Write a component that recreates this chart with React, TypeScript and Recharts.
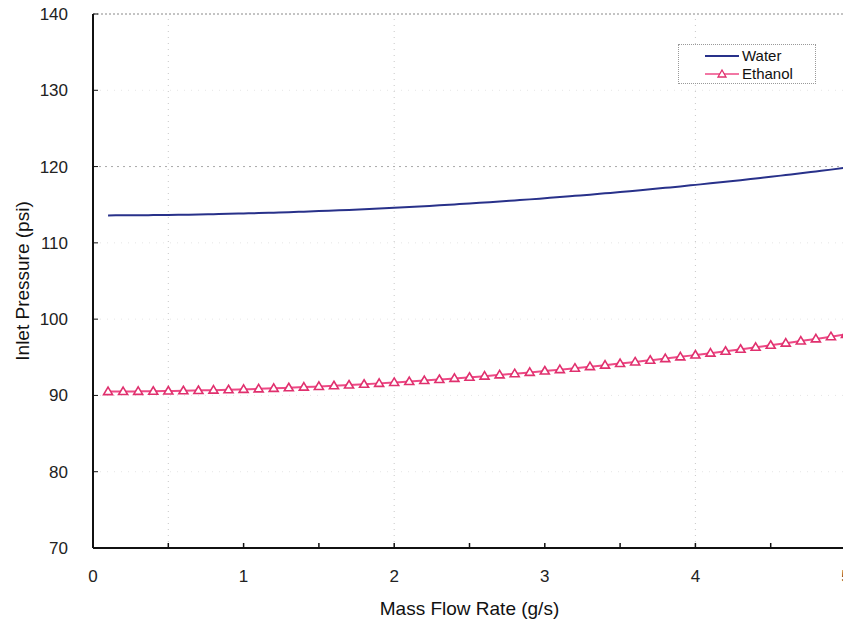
import { LineChart, Line, XAxis, YAxis, ReferenceLine, Legend, Label } from "recharts";

const flowRates = [
  0.1, 0.2, 0.3, 0.4, 0.5, 0.6, 0.7, 0.8, 0.9, 1.0,
  1.1, 1.2, 1.3, 1.4, 1.5, 1.6, 1.7, 1.8, 1.9, 2.0,
  2.1, 2.2, 2.3, 2.4, 2.5, 2.6, 2.7, 2.8, 2.9, 3.0,
  3.1, 3.2, 3.3, 3.4, 3.5, 3.6, 3.7, 3.8, 3.9, 4.0,
  4.1, 4.2, 4.3, 4.4, 4.5, 4.6, 4.7, 4.8, 4.9, 5.0,
];

const waterPressure = [
  113.6, 113.61, 113.62, 113.64, 113.66, 113.69, 113.72, 113.76, 113.8, 113.85,
  113.9, 113.96, 114.02, 114.09, 114.16, 114.24, 114.32, 114.41, 114.5, 114.6,
  114.7, 114.81, 114.92, 115.04, 115.16, 115.29, 115.42, 115.56, 115.7, 115.85,
  116.0, 116.16, 116.32, 116.49, 116.66, 116.84, 117.02, 117.21, 117.4, 117.6,
  117.8, 118.01, 118.22, 118.44, 118.66, 118.89, 119.12, 119.36, 119.6, 119.85,
];

const ethanolPressure = [
  90.5, 90.51, 90.53, 90.55, 90.58, 90.61, 90.65, 90.69, 90.74, 90.8,
  90.86, 90.93, 91.01, 91.09, 91.18, 91.27, 91.37, 91.47, 91.58, 91.7,
  91.82, 91.95, 92.09, 92.23, 92.38, 92.53, 92.69, 92.85, 93.02, 93.2,
  93.38, 93.57, 93.77, 93.97, 94.18, 94.39, 94.61, 94.83, 95.06, 95.3,
  95.54, 95.79, 96.05, 96.31, 96.58, 96.85, 97.13, 97.41, 97.7, 98.0,
];

const xTicks = [0, 0.5, 1, 1.5, 2, 2.5, 3, 3.5, 4, 4.5, 5];
const yTicks = [70, 80, 90, 100, 110, 120, 130, 140];

const data = flowRates.map((x, i) => ({ x, water: waterPressure[i], ethanol: ethanolPressure[i] }));

const font = "'Liberation Sans', Arial, sans-serif";
const waterColor = "#28318a";
const ethanolColor = "#ee4a86";

const Triangle = (props: any) => {
  const { cx, cy } = props;
  if (cx == null || cy == null) return null;
  return (
    <path
      d={`M${cx},${cy - 4.5} L${cx + 4.5},${cy + 3} L${cx - 4.5},${cy + 3} Z`}
      fill="#fff"
      stroke="#e0306e"
      strokeWidth={1.6}
    />
  );
};

const LegendBox = () => (
  <div
    style={{
      width: 136,
      height: 38,
      border: "1px dotted #999",
      background: "#fff",
      fontFamily: font,
      fontSize: 15,
      color: "#111",
      position: "relative",
    }}
  >
    <svg width={136} height={38} style={{ position: "absolute", left: 0, top: 0 }}>
      <line x1={26} x2={60} y1={11} y2={11} stroke={waterColor} strokeWidth={2} />
      <text x={63} y={16} fontSize={15} fontFamily={font} fill="#111">Water</text>
      <line x1={26} x2={60} y1={29} y2={29} stroke={ethanolColor} strokeWidth={1.5} />
      <path d="M43,25 L47,32 L39,32 Z" fill="#fff" stroke="#e0306e" strokeWidth={1.3} />
      <text x={63} y={34} fontSize={15} fontFamily={font} fill="#111">Ethanol</text>
    </svg>
  </div>
);

const YTitle = (props: any) => {
  const vb = props.viewBox || {};
  const cy = (vb.y || 0) + (vb.height || 0) / 2;
  return (
    <text
      x={22}
      y={cy}
      transform={`rotate(-90, 22, ${cy})`}
      textAnchor="middle"
      dominantBaseline="central"
      fontSize={19}
      fontFamily={font}
      fill="#111"
    >
      Inlet Pressure (psi)
    </text>
  );
};

export default function App() {
  return (
    <div style={{ margin: -8, width: 851, height: 629, overflow: "hidden" }}>
      <style>{"html, body { overflow: hidden; }"}</style>
      <LineChart
        width={851}
        height={629}
        data={data}
        margin={{ top: 14, right: 5, bottom: 0, left: 8 }}
      >
        {[0.5, 2, 4].map((v) => (
          <ReferenceLine key={"v" + v} x={v} stroke="#c8c8c8" strokeDasharray="1 5" />
        ))}
        {[80, 90, 100, 110, 130].map((v) => (
          <ReferenceLine key={"h" + v} y={v} stroke="#e6e6e6" strokeDasharray="1 6" />
        ))}
        <ReferenceLine y={120} stroke="#a8a8a8" strokeDasharray="2 4" />
        <ReferenceLine y={140} stroke="#888" strokeDasharray="2 2" />
        <ReferenceLine x={5} stroke="#888" strokeWidth={1} />
        <XAxis
          dataKey="x"
          type="number"
          domain={[0, 5]}
          ticks={xTicks}
          interval={0}
          height={81}
          tickSize={-5}
          tickMargin={27}
          tickFormatter={(v: number) => (Number.isInteger(v) ? String(v) : "")}
          axisLine={{ stroke: "#111", strokeWidth: 2 }}
          tickLine={{ stroke: "#111", strokeWidth: 1.5 }}
          tick={{ fill: "#222", fontSize: 17, fontFamily: font }}
        >
          <Label
            value="Mass Flow Rate (g/s)"
            position="insideBottom"
            offset={14}
            style={{ fontSize: 19, fontFamily: font, fill: "#111" }}
          />
        </XAxis>
        <YAxis
          type="number"
          domain={[70, 140]}
          ticks={yTicks}
          interval={0}
          width={85}
          tickSize={-5}
          tickMargin={30}
          axisLine={{ stroke: "#111", strokeWidth: 2 }}
          tickLine={{ stroke: "#111", strokeWidth: 1 }}
          tick={{ fill: "#222", fontSize: 17, fontFamily: font }}
        >
          <Label content={<YTitle />} />
        </YAxis>
        <Legend
          content={<LegendBox />}
          layout="horizontal"
          verticalAlign="middle"
          align="center"
          wrapperStyle={{ top: 44, left: 678, width: 138, height: 40 }}
        />
        <Line
          type="monotone"
          dataKey="water"
          stroke={waterColor}
          strokeWidth={2}
          dot={false}
          isAnimationActive={false}
        />
        <Line
          type="monotone"
          dataKey="ethanol"
          stroke={ethanolColor}
          strokeWidth={2}
          dot={<Triangle />}
          isAnimationActive={false}
        />
      </LineChart>
    </div>
  );
}
